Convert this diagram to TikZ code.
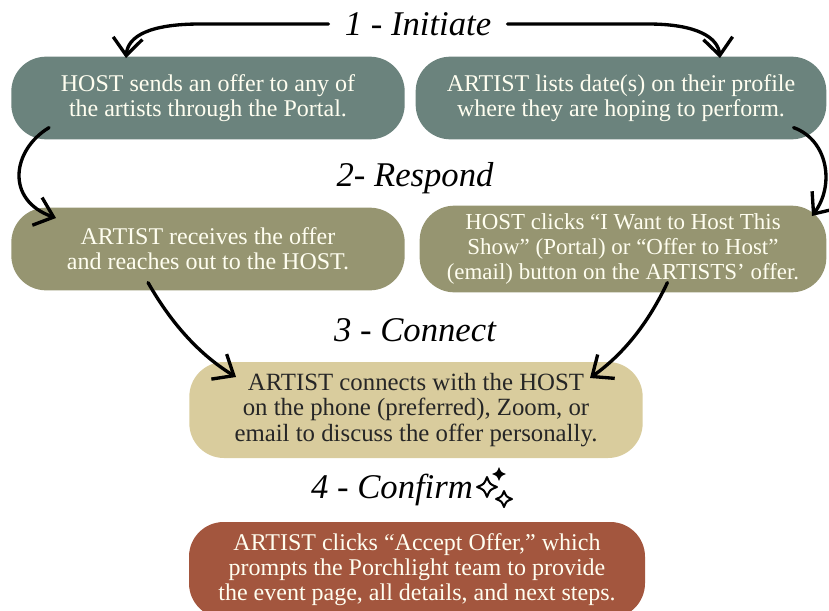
\documentclass[tikz,border=0pt]{standalone}
\usepackage{fontspec}
\setmainfont{Liberation Serif}
\usetikzlibrary{arrows.meta,calc}

\definecolor{tealgrey}{RGB}{107,131,125}
\definecolor{olivebox}{RGB}{150,149,113}
\definecolor{tanbox}{RGB}{217,204,157}
\definecolor{rustbox}{RGB}{163,86,62}

\tikzset{
  pillbox/.style={rounded corners=26pt, align=center, inner sep=0pt,
    font=\fontsize{18}{18.8}\selectfont, text=white!94!yellow},
  headline/.style={font=\fontsize{26}{28}\selectfont\itshape, inner xsep=12pt},
  handarrow/.style={line width=2.5pt, line cap=round,
    -{Straight Barb[length=13pt,width=22pt,line width=2.5pt]}},
}
\newcommand{\sparkle}[3]{% centre x, centre y, radius
  (#1,#2-#3) .. controls (#1+0.28*#3,#2-0.28*#3) .. (#1+#3,#2)
  .. controls (#1+0.28*#3,#2+0.28*#3) .. (#1,#2+#3)
  .. controls (#1-0.28*#3,#2+0.28*#3) .. (#1-#3,#2)
  .. controls (#1-0.28*#3,#2-0.28*#3) .. cycle}

\begin{document}
\begin{tikzpicture}[x=0.75pt,y=0.75pt,yscale=-1,xscale=1]
\useasboundingbox (0,0) rectangle (829,611);

%Shape: Rounded Rect [id:host offer]
\node [pillbox, fill=tealgrey, minimum width=295pt, minimum height=62pt] (hostoffer) at (208,98)
  {HOST sends an offer to any of\\the artists through the Portal.};
%Shape: Rounded Rect [id:artist lists]
\node [pillbox, fill=tealgrey, minimum width=308pt, minimum height=62pt] (artistlist) at (621,98)
  {ARTIST lists date(s) on their profile\\where they are hoping to perform.};
%Shape: Rounded Rect [id:artist receives]
\node [pillbox, fill=olivebox, minimum width=295pt, minimum height=62pt] (artistrecv) at (208,249)
  {ARTIST receives the offer\\and reaches out to the HOST.};
%Shape: Rounded Rect [id:host clicks]
\node [pillbox, fill=olivebox, minimum width=305pt, minimum height=65pt,
  font=\fontsize{17.2}{18.8}\selectfont] (hostclick) at (623,249)
  {HOST clicks ``I Want to Host This\\Show'' (Portal) or ``Offer to Host''\\(email) button on the ARTISTS' offer.};
%Shape: Rounded Rect [id:connect]
\node [pillbox, fill=tanbox, text=black!85, minimum width=340pt, minimum height=72pt,
  font=\fontsize{18.6}{19}\selectfont] (talk) at (416,410)
  {ARTIST connects with the HOST\\on the phone (preferred), Zoom, or\\email to discuss the offer personally.};
%Shape: Rounded Rect [id:confirm]
\node [pillbox, fill=rustbox, minimum width=342pt, minimum height=72pt,
  font=\fontsize{18}{18.8}\selectfont] (accept) at (417,570)
  {ARTIST clicks ``Accept Offer,'' which\\prompts the Porchlight team to provide\\the event page, all details, and next steps.};

% Text Node
\node [headline] (initiate) at (418,24) {1 - Initiate};
% Text Node
\node [headline] (respond) at (415,178) {2- Respond};
% Text Node
\node [headline] (connect) at (415,330) {3 - Connect};
% Text Node
\node [headline] (confirm) at (392,490) {4 - Confirm};

%Sparkles
\fill \sparkle{499}{474}{7};
\draw [line width=1.5pt, line join=round] \sparkle{487}{487}{10};
\draw [line width=1.5pt, line join=round] \sparkle{504}{499}{8};

%Arrow tips
\coordinate (tipa) at (126,58);
\coordinate (tipb) at (720,58);
\coordinate (tipc) at (56,218);
\coordinate (tipd) at (812,216);
\coordinate (tipe) at (236,377);
\coordinate (tipf) at (590,378);

%Curves
\draw [handarrow] (initiate.west) -- (200,24) .. controls (150,24) and (128,36) .. (tipa);
\draw [handarrow] (initiate.east) -- (648,24) .. controls (698,24) and (718,38) .. (tipb);
\draw [handarrow] ($(hostoffer.south west)+(38,-12)$) .. controls (12,150) and (5,200) .. (tipc);
\draw [handarrow] ($(artistlist.south east)+(-33,-12)$) .. controls (828,140) and (835,185) .. (tipd);
\draw [handarrow] ($(artistrecv.south west)+(137,-8)$) .. controls (175,330) and (205,358) .. (tipe);
\draw [handarrow] ($(hostclick.south west)+(248,-10)$) .. controls (645,330) and (618,358) .. (tipf);

\end{tikzpicture}
\end{document}
